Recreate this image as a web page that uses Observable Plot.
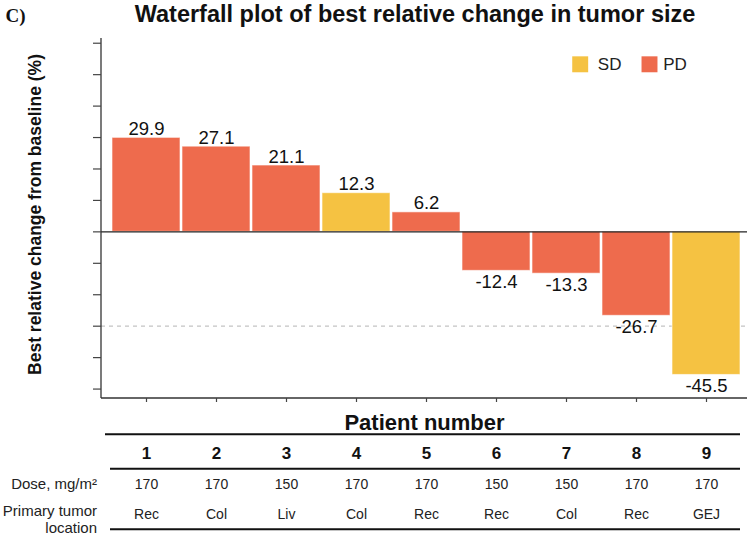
<!DOCTYPE html>
<html>
<head>
<meta charset="utf-8">
<script src="https://cdn.jsdelivr.net/npm/d3@7"></script>
<script src="https://cdn.jsdelivr.net/npm/@observablehq/plot@0.6"></script>
<style>
  html, body { margin: 0; padding: 0; background: #fff; }
  #chart svg { display: block; }
</style>
</head>
<body>
<div id="chart"></div>
<script>
// Best relative change in tumor size per patient (waterfall order)
const patients = ["1", "2", "3", "4", "5", "6", "7", "8", "9"];
const change = [29.9, 27.1, 21.1, 12.3, 6.2, -12.4, -13.3, -26.7, -45.5];
const response = ["PD", "PD", "PD", "SD", "PD", "PD", "PD", "PD", "SD"];
const dose = ["170", "170", "150", "170", "170", "150", "150", "170", "170"];
const tumorLocation = ["Rec", "Col", "Liv", "Col", "Rec", "Rec", "Col", "Rec", "GEJ"];
const yTicks = [-50, -40, -30, -20, -10, 0, 10, 20, 30, 40, 50, 60];
const legendKeys = ["SD", "PD"];
const threshold = -30;

const rows = patients.map((p, i) => ({
  patient: p,
  change: change[i],
  response: response[i],
  dose: dose[i],
  location: tumorLocation[i]
}));

const sans = "'Liberation Sans', Arial, Helvetica, sans-serif";
const serif = "'Liberation Serif', 'Times New Roman', serif";
const colors = {SD: "#F5C242", PD: "#EE6B4D"};

// Axis lines and the rules of the table under the chart
function frameLines(index, scales, values, dim) {
  const g = d3.create("svg:g");
  const left = dim.marginLeft;
  const right = dim.width - dim.marginRight;
  const top = dim.marginTop;
  const bottom = dim.height - dim.marginBottom;
  g.append("line")
    .attr("x1", left).attr("x2", left).attr("y1", top).attr("y2", bottom)
    .attr("stroke", "#333").attr("stroke-width", 1.3);
  g.append("line")
    .attr("x1", left).attr("x2", right).attr("y1", bottom).attr("y2", bottom)
    .attr("stroke", "#333").attr("stroke-width", 1.3);
  const tableRules = [
    {y: bottom + 36.3, x1: left + 4},
    {y: bottom + 70.8, x1: left + 9},
    {y: bottom + 131.3, x1: left + 9}
  ];
  for (const r of tableRules) {
    g.append("line")
      .attr("x1", r.x1).attr("x2", right - 7).attr("y1", r.y).attr("y2", r.y)
      .attr("stroke", "#111").attr("stroke-width", 2);
  }
  return g.node();
}

const chart = Plot.plot({
  width: 749,
  height: 535,
  marginLeft: 101,
  marginRight: 2,
  marginTop: 38,
  marginBottom: 137,
  style: {fontFamily: sans, background: "#fff", color: "#222", overflow: "visible"},
  x: {type: "band", domain: patients, padding: 0, insetLeft: 9, insetRight: 5.5},
  y: {domain: [-53, 61.5]},
  color: {domain: Object.keys(colors), range: Object.values(colors)},
  marks: [
    Plot.ruleY([threshold], {stroke: "#c4c4c4", strokeDasharray: "4,4", strokeWidth: 1.2}),
    Plot.barY(rows, {
      x: "patient", y: "change", fill: "response",
      stroke: "#fff", strokeOpacity: 0.6, strokeWidth: 1, insetLeft: 1, insetRight: 1
    }),
    Plot.ruleY([0], {stroke: "#222", strokeWidth: 1.2}),
    frameLines,
    Plot.axisY(yTicks, {tickSize: 8, tickFormat: () => "", label: null, stroke: "#444", strokeWidth: 1.2}),
    Plot.axisX({tickSize: 4, tickFormat: () => "", label: null, stroke: "#444", strokeWidth: 1.2}),
    // value labels: above positive bars, below negative bars
    Plot.text(rows.filter(d => d.change >= 0), {
      x: "patient", y: "change", text: d => d.change.toFixed(1),
      lineAnchor: "bottom", dy: -3, fontSize: 18.5, fill: "#111"
    }),
    Plot.text(rows.filter(d => d.change < 0), {
      x: "patient", y: "change", text: d => d.change.toFixed(1),
      lineAnchor: "top", dy: 4, fontSize: 18.5, fill: "#111"
    }),
    // title and panel letter
    Plot.text(["Waterfall plot of best relative change in tumor size"], {
      frameAnchor: "top", textAnchor: "middle", lineAnchor: "bottom", dx: -9.5, dy: -17,
      fontSize: 23.5, fontWeight: "bold", fill: "#111"
    }),
    Plot.text(["C)"], {
      frameAnchor: "top-left", textAnchor: "start", lineAnchor: "bottom", dx: -96, dy: -17,
      fontSize: 19, fontWeight: "bold", fontFamily: serif, fill: "#111"
    }),
    // y-axis title
    Plot.text(["Best relative change from baseline (%)"], {
      frameAnchor: "left", textAnchor: "middle", lineAnchor: "middle", rotate: -90, dx: -66, dy: -4,
      fontSize: 17.5, fontWeight: "bold", fill: "#111"
    }),
    // legend
    ...legendKeys.map((k, i) => Plot.dot([k], {
      frameAnchor: "top-right", symbol: "square", r: 9, fill: d => d,
      dx: -167.3 + i * 69.3, dy: 25.8
    })),
    ...legendKeys.map((k, i) => Plot.text([k], {
      frameAnchor: "top-right", textAnchor: "start", lineAnchor: "middle",
      dx: -149.7 + i * 65.4, dy: 25.8, fontSize: 17, fill: "#222"
    })),
    // table under the chart
    Plot.text(["Patient number"], {
      frameAnchor: "bottom", textAnchor: "middle", lineAnchor: "middle", dy: 24,
      fontSize: 22, fontWeight: "bold", fill: "#111"
    }),
    Plot.text(rows, {
      x: "patient", text: "patient", frameAnchor: "bottom", lineAnchor: "middle", dy: 55,
      fontSize: 17, fontWeight: "bold", fill: "#111"
    }),
    Plot.text(rows, {
      x: "patient", text: "dose", frameAnchor: "bottom", lineAnchor: "middle", dy: 86,
      fontSize: 14, fill: "#222"
    }),
    Plot.text(rows, {
      x: "patient", text: "location", frameAnchor: "bottom", lineAnchor: "middle", dy: 116,
      fontSize: 14, fill: "#222"
    }),
    Plot.text(["Dose, mg/m²"], {
      frameAnchor: "bottom-left", textAnchor: "end", lineAnchor: "middle", dx: -4.5, dy: 86,
      fontSize: 15, fill: "#222"
    }),
    Plot.text(["Primary tumor\nlocation"], {
      frameAnchor: "bottom-left", textAnchor: "end", lineAnchor: "middle", dx: -4.5, dy: 120.5,
      lineHeight: 1.1, fontSize: 15, fill: "#222"
    })
  ]
});

document.getElementById("chart").append(chart);
</script>
</body>
</html>
